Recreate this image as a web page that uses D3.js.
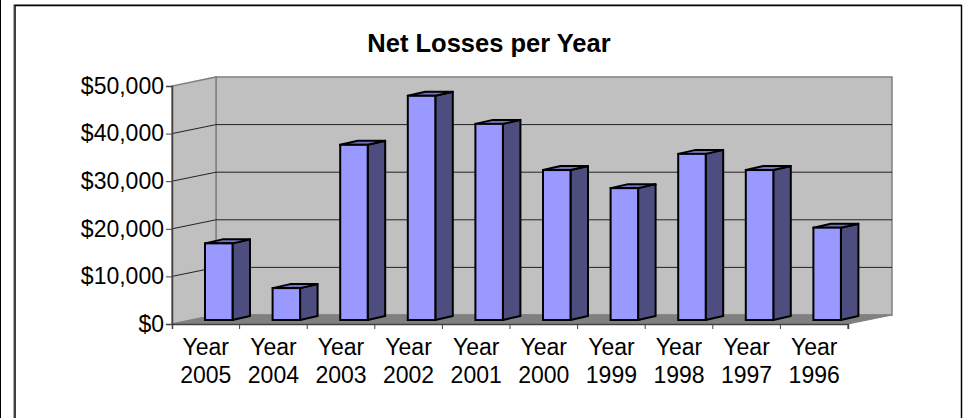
<!DOCTYPE html>
<html>
<head>
<meta charset="utf-8">
<script src="https://cdn.jsdelivr.net/npm/d3@7"></script>
<style>
  html, body { margin: 0; padding: 0; background: #fff; overflow: hidden; }
  text { font-family: "Liberation Sans", Arial, sans-serif; fill: #000; }
</style>
</head>
<body>
<div id="chart"></div>
<script>
const years = ['2005', '2004', '2003', '2002', '2001', '2000', '1999', '1998', '1997', '1996'];
const losses = [16100, 6700, 36800, 47100, 41200, 31500, 27700, 34900, 31500, 19400];
const ticks = [0, 10000, 20000, 30000, 40000, 50000];

const width = 966, height = 418;
const svg = d3.select('#chart').append('svg')
    .attr('width', width)
    .attr('height', height)
    .style('display', 'block');

// page frame
svg.append('line').attr('x1', 0.5).attr('x2', 0.5).attr('y1', 0).attr('y2', height).attr('stroke', '#000');
svg.append('path')
    .attr('d', `M13.5,${height} V4.5 H961`)
    .attr('fill', 'none').attr('stroke', '#aaa');
svg.append('path')
    .attr('d', `M15,${height} V5.5 H961.5 V${height}`)
    .attr('fill', 'none').attr('stroke', '#000').attr('stroke-width', 1.5);

// scales for the front plane, the back wall is shifted by the depth
const x = d3.scaleBand().domain(years).range([172, 848]);
const y = d3.scaleLinear().domain([0, 50000]).range([324, 86]);
const dx = 44, dy = -9;
const barLeft = 33, barW = 27.5, barDx = 17.5, barDy = -4, barLift = 4;

// back wall and side wall
svg.append('rect')
    .attr('x', 172 + dx).attr('y', y(50000) + dy)
    .attr('width', 848 - 172).attr('height', y(0) - y(50000))
    .attr('fill', '#c0c0c0').attr('stroke', '#808080').attr('stroke-width', 1.5);
svg.append('path')
    .attr('d', `M172,${y(0)} L${172 + dx},${y(0) + dy} V${y(50000) + dy} L172,${y(50000)} Z`)
    .attr('fill', '#c0c0c0').attr('stroke', '#808080').attr('stroke-width', 1.5);
// floor
svg.append('path')
    .attr('d', `M172,${y(0)} L${172 + dx},${y(0) + dy} H${848 + dx} L848,${y(0)} Z`)
    .attr('fill', '#808080').attr('stroke', '#808080');

// gridlines
const grid = ticks.filter(d => d > 0 && d < 50000);
svg.selectAll('.grid-back').data(grid).enter().append('line')
    .attr('class', 'grid-back')
    .attr('x1', 172 + dx).attr('x2', 848 + dx)
    .attr('y1', d => y(d) + dy).attr('y2', d => y(d) + dy)
    .attr('stroke', '#222').attr('stroke-width', 1);
svg.selectAll('.grid-side').data(grid).enter().append('line')
    .attr('class', 'grid-side')
    .attr('x1', 172).attr('x2', 172 + dx)
    .attr('y1', d => y(d)).attr('y2', d => y(d) + dy)
    .attr('stroke', '#222').attr('stroke-width', 1);

// bars
const bars = svg.selectAll('.bar').data(years).enter().append('g').attr('class', 'bar');
const bx = d => x(d) + barLeft;
const barTop = v => y(v) - barLift;
const base = y(0) - barLift;
bars.append('path')
    .attr('d', (d, i) => `M${bx(d) + barW},${barTop(losses[i])} l${barDx},${barDy} V${base + barDy} l${-barDx},${-barDy} Z`)
    .attr('fill', '#4d4d80').attr('stroke', '#000').attr('stroke-width', 2).attr('stroke-linejoin', 'round');
bars.append('path')
    .attr('d', (d, i) => `M${bx(d)},${barTop(losses[i])} l${barDx},${barDy} h${barW} l${-barDx},${-barDy} Z`)
    .attr('fill', '#7373bf').attr('stroke', '#000').attr('stroke-width', 2).attr('stroke-linejoin', 'round');
bars.append('rect')
    .attr('x', bx)
    .attr('y', (d, i) => barTop(losses[i]))
    .attr('width', barW)
    .attr('height', (d, i) => base - barTop(losses[i]))
    .attr('fill', '#9999ff').attr('stroke', '#000').attr('stroke-width', 2);

// axes
const yAxis = d3.axisLeft(y).tickValues(ticks).tickSize(6).tickPadding(2)
    .tickFormat(d => '$' + d3.format(',')(d));
const gy = svg.append('g').attr('transform', 'translate(172,0)').call(yAxis);
gy.selectAll('text').style('font-size', '23px').attr('font-family', null);
gy.selectAll('line, path').attr('stroke', '#404040');
gy.select('.domain').attr('stroke-width', 1.5);

const xAxis = d3.axisBottom(x).tickSize(5).tickFormat('');
const gx = svg.append('g').attr('transform', `translate(0,${y(0)})`).call(xAxis);
gx.selectAll('.tick line').attr('x1', x.bandwidth() / 2).attr('x2', x.bandwidth() / 2).attr('stroke', '#404040');
gx.select('.domain').attr('stroke', '#404040').attr('stroke-width', 1.5);

// category labels on two lines
const labels = svg.selectAll('.year').data(years).enter().append('text')
    .attr('class', 'year')
    .attr('text-anchor', 'middle')
    .style('font-size', '23px');
labels.append('tspan').attr('x', d => x(d) + x.bandwidth() / 2).attr('y', 355).text('Year');
labels.append('tspan').attr('x', d => x(d) + x.bandwidth() / 2).attr('y', 383).text(d => d);

svg.append('text')
    .attr('x', 489).attr('y', 51.5)
    .attr('text-anchor', 'middle')
    .style('font-size', '25.5px').style('font-weight', 'bold')
    .text('Net Losses per Year');
</script>
</body>
</html>
